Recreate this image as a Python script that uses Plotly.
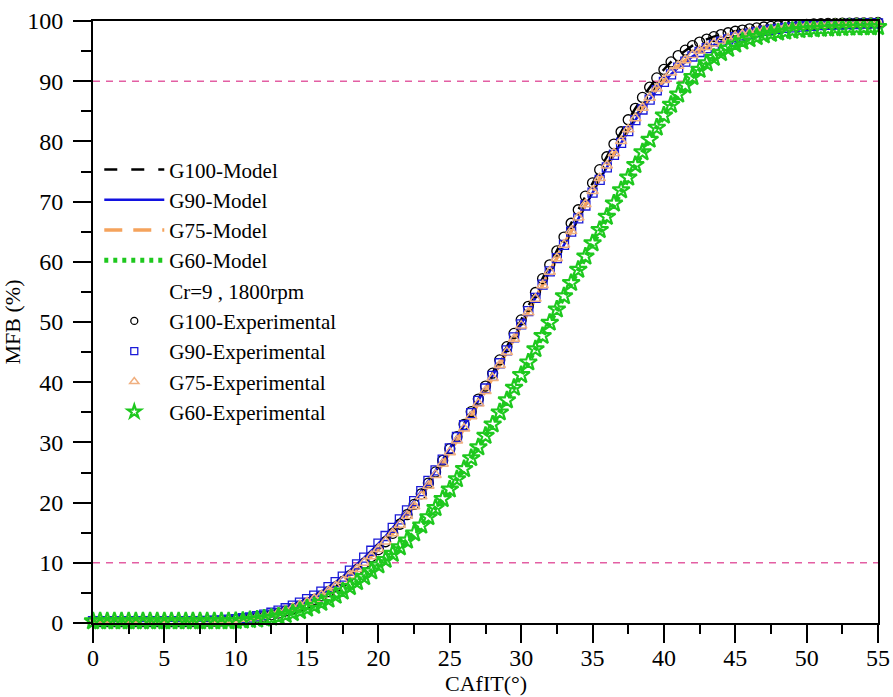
import plotly.graph_objects as go

# Crank angle after ignition timing (degrees)
ca = [0, 0.5, 1, 1.5, 2, 2.5, 3, 3.5, 4, 4.5,
      5, 5.5, 6, 6.5, 7, 7.5, 8, 8.5, 9, 9.5,
      10, 10.5, 11, 11.5, 12, 12.5, 13, 13.5, 14, 14.5,
      15, 15.5, 16, 16.5, 17, 17.5, 18, 18.5, 19, 19.5,
      20, 20.5, 21, 21.5, 22, 22.5, 23, 23.5, 24, 24.5,
      25, 25.5, 26, 26.5, 27, 27.5, 28, 28.5, 29, 29.5,
      30, 30.5, 31, 31.5, 32, 32.5, 33, 33.5, 34, 34.5,
      35, 35.5, 36, 36.5, 37, 37.5, 38, 38.5, 39, 39.5,
      40, 40.5, 41, 41.5, 42, 42.5, 43, 43.5, 44, 44.5,
      45, 45.5, 46, 46.5, 47, 47.5, 48, 48.5, 49, 49.5,
      50, 50.5, 51, 51.5, 52, 52.5, 53, 53.5, 54, 54.5,
      55]

g100 = [0.25, 0.25, 0.25, 0.25, 0.25, 0.25, 0.25, 0.25, 0.25, 0.25,
        0.25, 0.25, 0.25, 0.25, 0.25, 0.25, 0.3, 0.3, 0.35, 0.4,
        0.5, 0.6, 0.75, 0.9, 1.1, 1.35, 1.65, 2.0, 2.4, 2.85,
        3.35, 3.9, 4.5, 5.2, 6.0, 6.9, 7.85, 8.85, 9.9, 11.0,
        12.2, 13.5, 14.9, 16.4, 18.0, 19.7, 21.45, 23.25, 25.1, 27.0,
        28.95, 30.95, 33.0, 35.1, 37.2, 39.35, 41.5, 43.7, 45.9, 48.1,
        50.35, 52.6, 54.9, 57.2, 59.5, 61.8, 64.1, 66.4, 68.65, 70.9,
        73.1, 75.3, 77.45, 79.55, 81.6, 83.6, 85.5, 87.3, 89.0, 90.55,
        91.95, 93.2, 94.25, 95.15, 95.9, 96.5, 97.0, 97.4, 97.75, 98.05,
        98.3, 98.5, 98.7, 98.85, 99.0, 99.1, 99.2, 99.3, 99.35, 99.4,
        99.45, 99.5, 99.55, 99.6, 99.6, 99.65, 99.65, 99.7, 99.7, 99.7,
        99.75]

g90 = [0.3, 0.3, 0.3, 0.3, 0.3, 0.3, 0.3, 0.3, 0.3, 0.3,
       0.3, 0.3, 0.3, 0.3, 0.3, 0.3, 0.35, 0.4, 0.45, 0.55,
       0.65, 0.8, 0.95, 1.15, 1.4, 1.7, 2.05, 2.45, 2.9, 3.4,
       3.95, 4.55, 5.2, 5.95, 6.8, 7.7, 8.7, 9.75, 10.85, 12.0,
       13.2, 14.45, 15.8, 17.2, 18.7, 20.25, 21.9, 23.6, 25.35, 27.15,
       29.0, 30.9, 32.85, 34.85, 36.9, 38.95, 41.05, 43.15, 45.3, 47.45,
       49.6, 51.8, 54.0, 56.2, 58.4, 60.6, 62.8, 65.0, 67.2, 69.35,
       71.5, 73.6, 75.7, 77.75, 79.75, 81.7, 83.55, 85.3, 86.95, 88.5,
       89.9, 91.15, 92.25, 93.25, 94.1, 94.85, 95.5, 96.05, 96.55, 96.95,
       97.3, 97.6, 97.9, 98.15, 98.35, 98.55, 98.7, 98.85, 98.95, 99.05,
       99.15, 99.2, 99.3, 99.35, 99.4, 99.45, 99.5, 99.5, 99.55, 99.6,
       99.6]

g75 = [0.3, 0.3, 0.3, 0.3, 0.3, 0.3, 0.3, 0.3, 0.3, 0.3,
       0.3, 0.3, 0.3, 0.3, 0.3, 0.3, 0.3, 0.35, 0.4, 0.5,
       0.6, 0.7, 0.85, 1.0, 1.2, 1.45, 1.75, 2.1, 2.5, 2.95,
       3.45, 4.0, 4.6, 5.3, 6.1, 7.0, 7.95, 8.95, 10.0, 11.1,
       12.3, 13.55, 14.9, 16.3, 17.8, 19.4, 21.05, 22.8, 24.6, 26.45,
       28.35, 30.3, 32.3, 34.35, 36.45, 38.55, 40.7, 42.85, 45.0, 47.2,
       49.4, 51.6, 53.85, 56.1, 58.35, 60.6, 62.85, 65.1, 67.35, 69.55,
       71.75, 73.9, 76.0, 78.05, 80.05, 82.0, 83.85, 85.6, 87.25, 88.8,
       90.2, 91.45, 92.55, 93.5, 94.35, 95.05, 95.7, 96.25, 96.7, 97.1,
       97.45, 97.75, 98.0, 98.25, 98.45, 98.65, 98.8, 98.95, 99.05, 99.15,
       99.25, 99.3, 99.35, 99.4, 99.45, 99.5, 99.5, 99.55, 99.6, 99.6,
       99.65]

g60 = [0.3, 0.3, 0.3, 0.3, 0.3, 0.3, 0.3, 0.3, 0.3, 0.3,
       0.3, 0.3, 0.3, 0.3, 0.3, 0.3, 0.3, 0.3, 0.3, 0.3,
       0.35, 0.4, 0.5, 0.6, 0.75, 0.9, 1.1, 1.35, 1.65, 2.0,
       2.4, 2.85, 3.35, 3.9, 4.55, 5.25, 6.0, 6.8, 7.65, 8.6,
       9.6, 10.5, 11.5, 12.6, 13.7, 14.9, 16.2, 17.6, 19.1, 20.6,
       22.2, 23.9, 25.6, 27.4, 29.2, 31.1, 33.0, 35.0, 37.0, 39.1,
       41.2, 43.3, 45.5, 47.7, 49.9, 52.1, 54.3, 56.5, 58.7, 60.9,
       63.1, 65.3, 67.5, 69.7, 71.9, 74.0, 76.1, 78.2, 80.3, 82.3,
       84.3, 86.1, 87.8, 89.3, 90.7, 91.9, 93.0, 93.9, 94.7, 95.4,
       96.1, 96.6, 97.0, 97.35, 97.65, 97.9, 98.1, 98.25, 98.4, 98.5,
       98.6, 98.65, 98.7, 98.75, 98.8, 98.85, 98.9, 98.9, 98.95, 98.95,
       99.0]

# Experimental points read at the same crank angles
g100_exp = g100
g90_exp = g90
g75_exp = g75
g60_exp = g60

ref_levels = [10, 90]
x_range = [0, 55]
y_range = [0, 100]

FONT = "Liberation Serif"

fig = go.Figure()

model_styles = [
    ("G100-Model", g100, dict(color="black", width=2.5, dash="13px,14px")),
    ("G90-Model", g90, dict(color="#1212e0", width=2.5)),
    ("G75-Model", g75, dict(color="#f5a35c", width=3.5, dash="18px,11px")),
    ("G60-Model", g60, dict(color="#1ec81e", width=5, dash="4px,5px")),
]
for name, ys, ln in model_styles:
    fig.add_trace(go.Scatter(x=ca, y=ys, mode="lines", name=name, line=ln,
                             cliponaxis=False))

fig.add_trace(go.Scatter(x=[None], y=[None], mode="markers",
                         marker=dict(color="rgba(0,0,0,0)", size=1,
                                     line=dict(width=0, color="rgba(0,0,0,0)")),
                         name="Cr=9 , 1800rpm"))

exp_styles = [
    ("G100-Experimental", g100_exp, "circle-open", 10, 7, "black", 1.3),
    ("G90-Experimental", g90_exp, "square-open", 9, 7, "#1a1ad8", 1.3),
    ("G75-Experimental", g75_exp, "triangle-up-open", 10, 8, "#f0b080", 1.5),
    ("G60-Experimental", g60_exp, "star-open", 13, 10, "#1ec81e", 2.2),
]
for name, ys, sym, sz, lsz, col, lw in exp_styles:
    fig.add_trace(go.Scatter(x=ca, y=ys, mode="markers", name=name, showlegend=False,
                             marker=dict(symbol=sym, size=sz, color=col, line=dict(width=lw)),
                             cliponaxis=False))
    # legend entry with the smaller symbol used in the reference legend
    fig.add_trace(go.Scatter(x=[None], y=[None], mode="markers", name=name,
                             marker=dict(symbol=sym, size=lsz, color=col, line=dict(width=lw))))

for lv in ref_levels:
    fig.add_shape(type="line", xref="x", yref="y", x0=x_range[0], x1=x_range[1],
                  y0=lv, y1=lv, line=dict(color="#e35fa3", width=1.5, dash="7px,6px"),
                  layer="below")

# x-axis title placed just under the tick labels, at the bottom edge
fig.add_annotation(text="CAfIT(°)", xref="paper", yref="paper",
                   x=0.5, y=-0.1225, xanchor="center", yanchor="bottom",
                   showarrow=False, font=dict(family=FONT, size=22, color="black"),
                   borderpad=0)

fig.update_layout(
    width=893, height=697,
    margin=dict(l=93, r=15, t=21, b=74, autoexpand=False),
    paper_bgcolor="white", plot_bgcolor="white",
    font=dict(family=FONT, color="black", size=22),
    showlegend=True,
    legend=dict(x=0.008, y=0.787, xanchor="left", yanchor="top",
                bgcolor="rgba(0,0,0,0)", font=dict(family=FONT, size=21),
                itemwidth=60, tracegroupgap=0, traceorder="normal"),
)

fig.update_xaxes(
    range=x_range, dtick=5, tick0=0, automargin=False,
    showline=True, linecolor="black", linewidth=2, mirror=True,
    ticks="outside", ticklen=18, tickwidth=2, tickcolor="black",
    tickfont=dict(family=FONT, size=24), ticklabelstandoff=-6,
    showgrid=False, zeroline=False,
    minor=dict(dtick=2.5, ticks="outside", ticklen=9, tickwidth=2, tickcolor="black", showgrid=False),
)
fig.update_yaxes(
    range=y_range, dtick=10, tick0=0, automargin=False,
    showline=True, linecolor="black", linewidth=2, mirror=True,
    ticks="outside", ticklen=18, tickwidth=2, tickcolor="black",
    tickfont=dict(family=FONT, size=24), ticklabelstandoff=5,
    showgrid=False, zeroline=False,
    minor=dict(dtick=5, ticks="outside", ticklen=10, tickwidth=2, tickcolor="black", showgrid=False),
    title=dict(text="MFB (%)", font=dict(family=FONT, size=22), standoff=4),
)

fig.write_html("out.html")
